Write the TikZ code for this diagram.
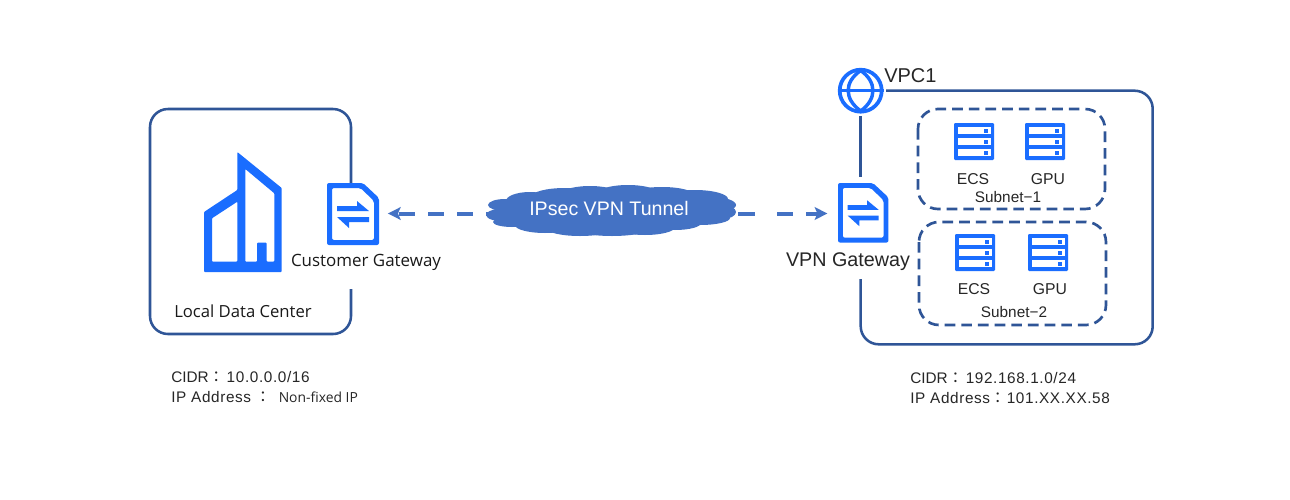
\documentclass[tikz,border=0pt]{standalone}
\usepackage{fontspec}
\setmainfont{Liberation Sans}
\newfontfamily\labelfont{Open Sans}
\newfontfamily\cjkfont{Noto Sans CJK TC}
\newfontfamily\widefont[LetterSpace=4]{Liberation Sans}
\newfontfamily\numfont[LetterSpace=4]{Liberation Sans}
\usetikzlibrary{arrows.meta}
\definecolor{framecol}{HTML}{2F5597}
\definecolor{iconcol}{HTML}{1A6DFF}
\definecolor{linkcol}{HTML}{4472C4}
\tikzset{
  x=0.75pt, y=-0.75pt,
  framebox/.style={draw=framecol, line width=1.9pt, rounded corners=13.5pt},
  subnetbox/.style={draw=framecol, line width=2pt, rounded corners=15pt, dash pattern=on 8pt off 4.5pt},
  txt/.style={inner sep=0pt, font=\fontsize{#1}{#1}\selectfont, text=black!85},
  txt/.default=11,
  lbl/.style={inner sep=0pt, font=\labelfont\fontsize{#1}{#1}\selectfont, text=black!90},
  lbl/.default=11,
  anchorbox/.style={inner sep=0pt, minimum width=#1, minimum height=44pt},
  link/.style={draw=linkcol, line width=3pt, -{Stealth[length=9.5pt,width=9.5pt,inset=2pt]}},
  puff/.style={fill=linkcol, draw=none},
  pics/gateway/.style={code={
    \fill[iconcol, rounded corners=1.5pt, even odd rule]
      (0,0) -- (36,0) -- (52,15) -- (52,62) -- (0,62) -- cycle
      (5,5) -- (33.5,5) -- (47,18) -- (47,57) -- (5,57) -- cycle;
    \fill[iconcol] (10,23) -- (30,23) -- (30,18) -- (42,28) -- (10,28) -- cycle;
    \fill[iconcol] (42,34) -- (10,34) -- (22,45) -- (22,39) -- (42,39) -- cycle;
  }},
  pics/server/.style={code={
    \fill[iconcol, rounded corners=0.8pt] (0,0) rectangle (40,37);
    \foreach \ry in {4,15,26}{
      \fill[white] (3.5,\ry) rectangle (36.5,\ry+7);
      \fill[iconcol] (29.5,\ry+1.5) rectangle (33.5,\ry+5.5);
    }
  }}
}
\begin{document}
\begin{tikzpicture}
\useasboundingbox (0,0) rectangle (1290,500);
\fill[white] (0,0) rectangle (1290,500);

% Local data center frame, open where the gateway sits
\draw[framebox] (351,183) -- (351,109) -- (150,109) -- (150,334) -- (351,334) -- (351,289);
% Building
\fill[iconcol, even odd rule, rounded corners=0.6pt]
  (204,212) -- (237.3,190) -- (237.3,152) -- (281.7,188) -- (281.7,272) -- (204,272) -- cycle
  (212,218.3) -- (237.3,201.7) -- (237.3,261.7) -- (212,261.7) -- cycle
  (245.3,169) -- (274.3,193.3) -- (274.3,261.7) -- (266.7,261.7) -- (266.7,242.7) -- (257,242.7) -- (257,261.7) -- (245.3,261.7) -- cycle;
\node[lbl=12.5] (dc) at (243,311) {Local Data Center};

% Customer gateway
\pic at (327,183) {gateway};
\node[anchorbox=39pt] (cgw) at (353,214) {};
\node[lbl=12.7] (cgwlabel) at (366,262) {Customer Gateway};

% Address notes, left
\node[txt=11.5, anchor=base west] (cidrl) at (171,382) {CIDR{\cjkfont：}\hspace{2pt}{\numfont 10.0.0.0/16}};
\node[txt=11.5, anchor=base west] (ipl) at (171,402) {{\widefont IP Address} {\cjkfont：}\hspace{6pt}{\labelfont\fontsize{10.4}{10.4}\selectfont Non-fixed IP}};

% VPC frame, open at the globe and the gateway
\draw[framebox] (886,90.7) -- (1152.7,90.7) -- (1152.7,344.3) -- (860.7,344.3) -- (860.7,279);
\draw[framebox] (860.7,116) -- (860.7,176.7);
% Globe
\node[circle, draw=iconcol, line width=2.8pt, fill=white, minimum size=31.5pt, inner sep=0pt] (globe) at (860.7,90.7) {};
\draw[iconcol, line width=2.6pt] (860.7,70.5) .. controls (844,82) and (844,99) .. (860.7,111)
  .. controls (877,99) and (877,82) .. (860.7,70.5);
\draw[iconcol, line width=2.6pt] (globe.west) -- (globe.east);
\node[txt=15, anchor=base west] (vpc) at (884,82) {VPC1};

% VPN gateway
\pic[yscale=0.96, xscale=0.97] at (838,183) {gateway};
\node[anchorbox=38pt] (vgw) at (863,213) {};
\node[txt=14.8, anchor=center] (vgwlabel) at (848,262) {VPN Gateway};

% Subnets
\draw[subnetbox] (918,109) rectangle (1105,209);
\draw[subnetbox] (919,222) rectangle (1106,325);
\pic at (954,123) {server};
\pic at (1025,123) {server};
\pic at (955,234) {server};
\pic at (1028,234) {server};
\node[txt=11.8] (ecsa) at (973,179) {ECS};
\node[txt=11.8] (gpua) at (1048,179) {GPU};
\node[txt=11.5] (suba) at (1008,197) {Subnet\textminus 1};
\node[txt=11.8] (ecsb) at (974,289) {ECS};
\node[txt=11.8] (gpub) at (1050,289) {GPU};
\node[txt=11.5] (subb) at (1014,312) {Subnet\textminus 2};

% Address notes, right
\node[txt=11.5, anchor=base west] (cidrr) at (910,383) {CIDR{\cjkfont：}\hspace{2pt}{\numfont 192.168.1.0/24}};
\node[txt=11.5, anchor=base west] (ipr) at (910,403) {{\widefont IP Address}{\cjkfont：}\hspace{1pt}{\widefont 101.XX.XX.58}};

% Cloud outline
\foreach \cx/\cy/\rx/\ry in {
  505/205/17/6, 508/215/22/7, 512/222/19/5, 540/209/36/16, 530/201/24/9,
  565/197/34/9, 590/198/34/12, 612/211/100/20, 628/196/34/11, 662/195/32/8, 695/199/33/9,
  712/205/24/8, 722/212/14/7, 700/218/30/7, 545/225/30/8, 580/228/34/8,
  612/229/36/7, 645/227/30/8, 675/223/26/7}
  \fill[puff] (\cx,\cy) ellipse [x radius=\rx, y radius=\ry];
\node[inner sep=0pt, minimum width=184.5pt, minimum height=34pt] (tunnel) at (613,213.5) {};
\node[inner sep=0pt, text=white, font=\fontsize{14.7}{14.7}\selectfont] (tunnellabel) at (609,208) {IPsec VPN Tunnel};

% Tunnel links
\draw[link, dash pattern=on 12pt off 9.75pt, dash phase=9pt, shorten >=6.5pt] (tunnel.west) -- (cgw.east |- tunnel.west);
\draw[link, dash pattern=on 0pt off 1.5pt on 12.75pt off 16.5pt on 12pt off 9.75pt on 30pt, shorten >=7.5pt] (tunnel.east) -- (vgw.west |- tunnel.east);
\end{tikzpicture}
\end{document}
